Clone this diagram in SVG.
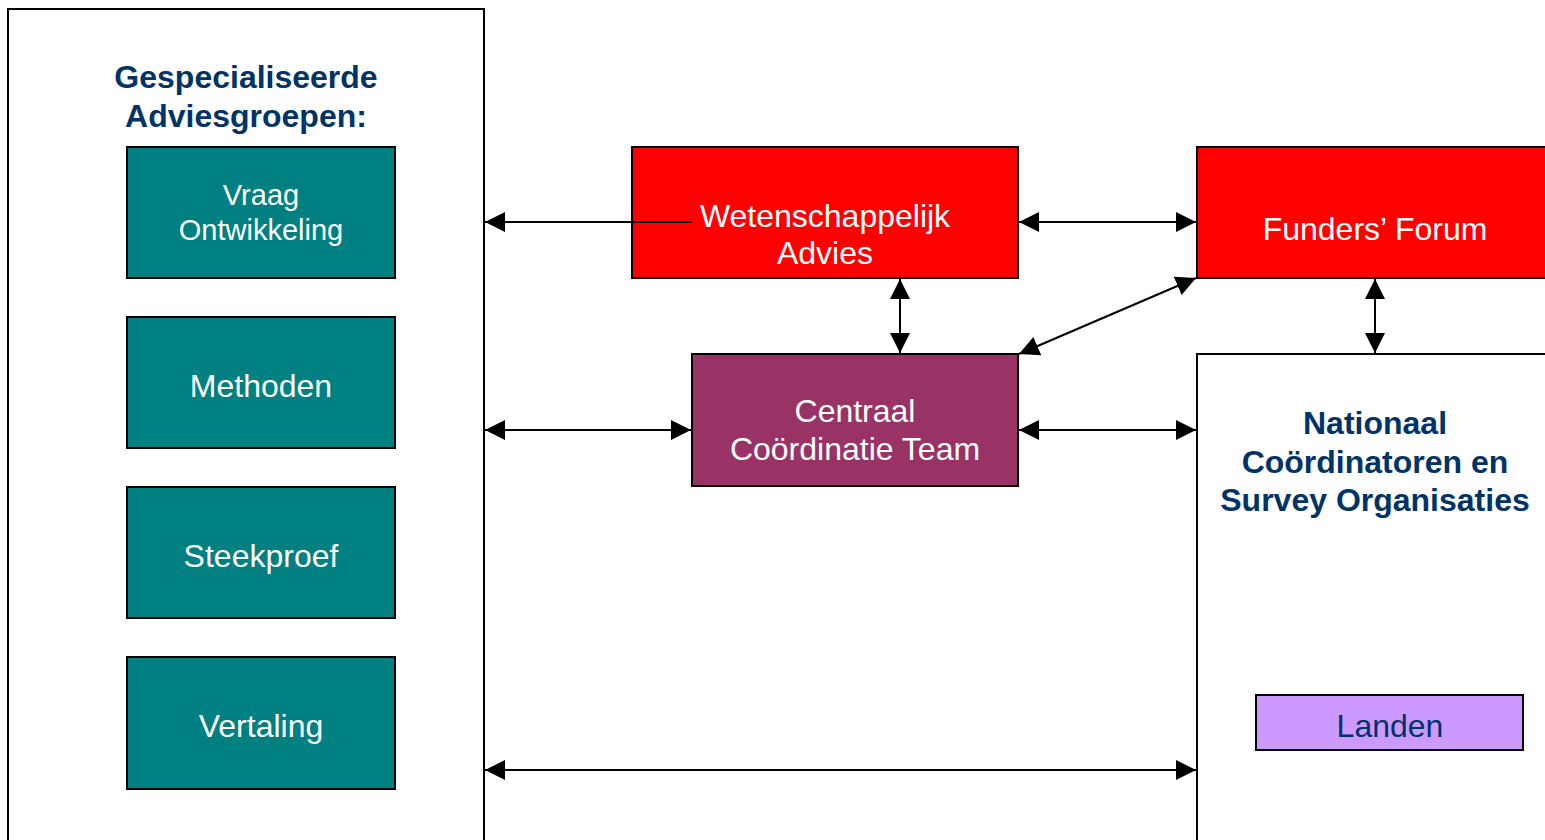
<svg xmlns="http://www.w3.org/2000/svg" width="1545" height="840" viewBox="0 0 1545 840">
<style>
.box{stroke:#000;stroke-width:2}
.teal{fill:#008080}
.red{fill:#FF0000}
.plum{fill:#993366}
.lav{fill:#CC99FF}
.white{fill:#fff}
.t{font-family:"Liberation Sans",Arial,sans-serif;font-size:32px;text-anchor:middle}
.sm{font-size:29px}
.tw{fill:#fff}
.tb{fill:#003366;font-weight:bold}
.tn{fill:#003366}
.c{stroke:#000;stroke-width:2;fill:none}
</style>
<defs>
<marker id="ah" viewBox="0 0 20 20" refX="20" refY="10" markerWidth="20" markerHeight="20" markerUnits="userSpaceOnUse" orient="auto-start-reverse">
<path d="M0,0 L20,10 L0,20 z" fill="#000"/>
</marker>
</defs>
<rect width="1545" height="840" fill="#fff"/>
<g id="adviesgroepen">
<rect class="box white" x="8" y="9" width="476" height="840"/>
<text class="t tb" x="246" y="88">Gespecialiseerde</text>
<text class="t tb" x="246" y="127">Adviesgroepen:</text>
</g>
<g id="vraag">
<rect class="box teal" x="127" y="147" width="268" height="131"/>
<text class="t sm tw" x="261" y="205">Vraag</text>
<text class="t sm tw" x="261" y="240">Ontwikkeling</text>
</g>
<g id="methoden">
<rect class="box teal" x="127" y="317" width="268" height="131"/>
<text class="t tw" x="261" y="397">Methoden</text>
</g>
<g id="steekproef">
<rect class="box teal" x="127" y="487" width="268" height="131"/>
<text class="t tw" x="261" y="567">Steekproef</text>
</g>
<g id="vertaling">
<rect class="box teal" x="127" y="657" width="268" height="132"/>
<text class="t tw" x="261" y="737">Vertaling</text>
</g>
<g id="wetenschappelijk">
<rect class="box red" x="632" y="147" width="386" height="131"/>
<text class="t tw" x="825" y="227">Wetenschappelijk</text>
<text class="t tw" x="825" y="264">Advies</text>
</g>
<g id="funders">
<rect class="box red" x="1197" y="147" width="360" height="131"/>
<text class="t tw" x="1375" y="240">Funders’ Forum</text>
</g>
<g id="centraal">
<rect class="box plum" x="692" y="354" width="326" height="132"/>
<text class="t tw" x="855" y="422">Centraal</text>
<text class="t tw" x="855" y="460">Coördinatie Team</text>
</g>
<g id="nationaal">
<rect class="box white" x="1197" y="354" width="360" height="500"/>
<text class="t tb" x="1375" y="434">Nationaal</text>
<text class="t tb" x="1375" y="473">Coördinatoren en</text>
<text class="t tb" x="1375" y="511">Survey Organisaties</text>
</g>
<g id="landen">
<rect class="box lav" x="1256" y="695" width="267" height="55"/>
<text class="t tn" x="1390" y="737">Landen</text>
</g>
<g id="connectors">
<line class="c" x1="692" y1="222" x2="485" y2="222" marker-end="url(#ah)"/>
<line class="c" x1="1019" y1="222" x2="1196" y2="222" marker-start="url(#ah)" marker-end="url(#ah)"/>
<line class="c" x1="900" y1="279" x2="900" y2="353" marker-start="url(#ah)" marker-end="url(#ah)"/>
<line class="c" x1="1019" y1="354" x2="1196" y2="278" marker-start="url(#ah)" marker-end="url(#ah)"/>
<line class="c" x1="1375" y1="279" x2="1375" y2="353" marker-start="url(#ah)" marker-end="url(#ah)"/>
<line class="c" x1="485" y1="430" x2="691" y2="430" marker-start="url(#ah)" marker-end="url(#ah)"/>
<line class="c" x1="1019" y1="430" x2="1196" y2="430" marker-start="url(#ah)" marker-end="url(#ah)"/>
<line class="c" x1="485" y1="770" x2="1196" y2="770" marker-start="url(#ah)" marker-end="url(#ah)"/>
</g>
</svg>
